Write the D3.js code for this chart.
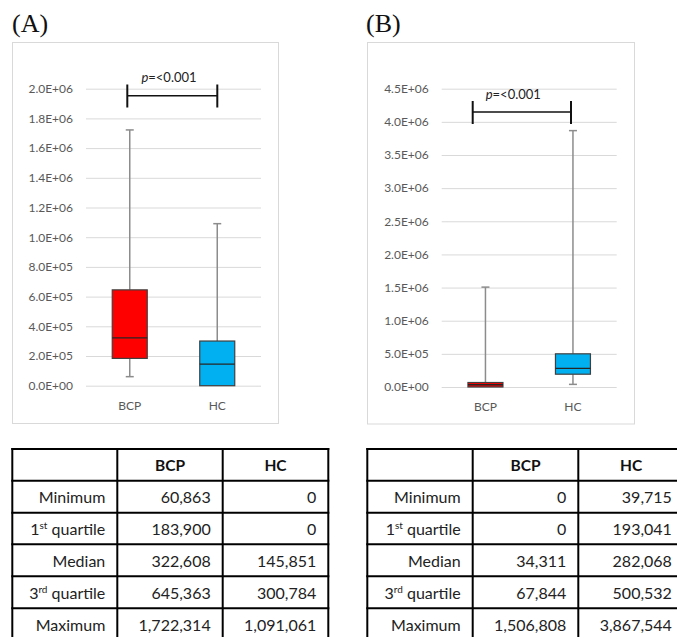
<!DOCTYPE html>
<html>
<head>
<meta charset="utf-8">
<script src="https://cdn.jsdelivr.net/npm/d3@7"></script>
<style>
  body { margin: 0; background: #fff; }
  svg { display: block; }
</style>
</head>
<body>
<svg id="fig" width="677" height="637"></svg>
<script>
// Group names and summary statistics (five-number summaries)
const groups = ["BCP", "HC"];
const statNames = ["Minimum", "1st quartile", "Median", "3rd quartile", "Maximum"];
const statsA_BCP = [60863, 183900, 322608, 645363, 1722314];
const statsA_HC  = [0, 0, 145851, 300784, 1091061];
const statsB_BCP = [0, 0, 34311, 67844, 1506808];
const statsB_HC  = [39715, 193041, 282068, 500532, 3867544];
const ticksA = [0, 2e5, 4e5, 6e5, 8e5, 1e6, 1.2e6, 1.4e6, 1.6e6, 1.8e6, 2e6];
const ticksB = [0, 5e5, 1e6, 1.5e6, 2e6, 2.5e6, 3e6, 3.5e6, 4e6, 4.5e6];
const pText = "<0.001";
const boxColors = ["#ff0000", "#00b0f0"];

// Layout of each panel: frame, plot area, significance bracket and table
const panels = [
  {
    tag: "(A)", tagX: 12, stats: [statsA_BCP, statsA_HC], ticks: ticksA, yMax: 2e6,
    frame: { x: 12.5, y: 42.5, w: 266, h: 381 },
    plot: { x0: 86, x1: 261, yBottom: 385.7, yTop: 88.7 },
    bracket: { xl: 127.3, xr: 217.3, top: 84.5, mid: 95.7, bottom: 107.5 },
    pLabelX: 169, pLabelY: 81.5,
    catY: 410,
    table: { cols: [12.3, 117.3, 222.7, 328.3] }
  },
  {
    tag: "(B)", tagX: 366, stats: [statsB_BCP, statsB_HC], ticks: ticksB, yMax: 4.5e6,
    frame: { x: 367.5, y: 42.5, w: 267, h: 381.5 },
    plot: { x0: 441.7, x1: 616.7, yBottom: 387, yTop: 88.7 },
    bracket: { xl: 472.7, xr: 571, top: 101, mid: 112, bottom: 124 },
    pLabelX: 513.3, pLabelY: 98.5,
    catY: 411,
    table: { cols: [367.3, 472.7, 578.3, 683.9] }
  }
];
const tableRows = [449, 480.7, 512.7, 544.3, 576.3, 608.3, 640.3];

const svg = d3.select("#fig");
svg.append("rect").attr("width", 677).attr("height", 637).attr("fill", "#fff");

const sansFont = "Lato, 'Open Sans', sans-serif";

// Tick label in Excel scientific style, e.g. 2.0E+06
function sci(v) {
  if (v === 0) return "0.0E+00";
  const e = Math.floor(Math.log10(v));
  const m = v / Math.pow(10, e);
  return m.toFixed(1) + "E+" + String(e).padStart(2, "0");
}

panels.forEach(p => {
  // Panel tag
  svg.append("text")
    .attr("x", p.tagX).attr("y", 32)
    .attr("font-family", "'Liberation Serif', 'Times New Roman', serif")
    .attr("font-size", 26).attr("fill", "#111")
    .text(p.tag);

  // Chart frame
  svg.append("rect")
    .attr("x", p.frame.x).attr("y", p.frame.y)
    .attr("width", p.frame.w).attr("height", p.frame.h)
    .attr("fill", "#fff").attr("stroke", "#d9d9d9").attr("stroke-width", 1);

  const x = d3.scaleBand().domain(groups).range([p.plot.x0, p.plot.x1]).padding(0);
  const y = d3.scaleLinear().domain([0, p.yMax]).range([p.plot.yBottom, p.plot.yTop]);

  // Value axis with gridlines
  const yAxis = d3.axisLeft(y)
    .tickValues(p.ticks)
    .tickFormat(sci)
    .tickSize(-(p.plot.x1 - p.plot.x0))
    .tickPadding(13);
  const gy = svg.append("g")
    .attr("transform", `translate(${p.plot.x0},0)`)
    .call(yAxis);
  gy.select(".domain").remove();
  gy.selectAll(".tick line").attr("stroke", "#d9d9d9").attr("stroke-width", 1);
  gy.selectAll(".tick text")
    .attr("font-family", sansFont).attr("font-size", 12).attr("fill", "#595959");

  // Category labels
  svg.append("g").selectAll("text").data(groups).join("text")
    .attr("x", d => x(d) + x.bandwidth() / 2)
    .attr("y", p.catY)
    .attr("text-anchor", "middle")
    .attr("font-family", sansFont).attr("font-size", 12).attr("fill", "#595959")
    .text(d => d);

  // Box plots
  const boxW = 35;
  const capW = 8;
  groups.forEach((g, i) => {
    const [mn, q1, med, q3, mx] = p.stats[i];
    const cx = x(g) + x.bandwidth() / 2;
    const grp = svg.append("g");
    // upper whisker
    grp.append("line")
      .attr("x1", cx).attr("x2", cx).attr("y1", y(mx)).attr("y2", y(q3))
      .attr("stroke", "#8c8c8c").attr("stroke-width", 1.5);
    grp.append("line")
      .attr("x1", cx - capW / 2).attr("x2", cx + capW / 2).attr("y1", y(mx)).attr("y2", y(mx))
      .attr("stroke", "#8c8c8c").attr("stroke-width", 1.5);
    // lower whisker
    if (q1 > mn) {
      grp.append("line")
        .attr("x1", cx).attr("x2", cx).attr("y1", y(q1)).attr("y2", y(mn))
        .attr("stroke", "#8c8c8c").attr("stroke-width", 1.5);
      grp.append("line")
        .attr("x1", cx - capW / 2).attr("x2", cx + capW / 2).attr("y1", y(mn)).attr("y2", y(mn))
        .attr("stroke", "#8c8c8c").attr("stroke-width", 1.5);
    }
    // interquartile box
    grp.append("rect")
      .attr("x", cx - boxW / 2).attr("y", y(q3))
      .attr("width", boxW).attr("height", y(q1) - y(q3))
      .attr("fill", boxColors[i]).attr("stroke", "#404040").attr("stroke-width", 1.2);
    // median
    grp.append("line")
      .attr("x1", cx - boxW / 2).attr("x2", cx + boxW / 2).attr("y1", y(med)).attr("y2", y(med))
      .attr("stroke", "#262626").attr("stroke-width", 1.3);
  });

  // Significance bracket
  const b = p.bracket;
  const br = svg.append("g").attr("stroke", "#111").attr("stroke-width", 2);
  br.append("line").attr("x1", b.xl).attr("x2", b.xl).attr("y1", b.top).attr("y2", b.bottom);
  br.append("line").attr("x1", b.xr).attr("x2", b.xr).attr("y1", b.top).attr("y2", b.bottom);
  br.append("line").attr("x1", b.xl).attr("x2", b.xr).attr("y1", b.mid).attr("y2", b.mid).attr("stroke-width", 1.6);

  const pt = svg.append("text")
    .attr("x", p.pLabelX).attr("y", p.pLabelY)
    .attr("text-anchor", "middle")
    .attr("font-family", sansFont).attr("font-size", 13).attr("fill", "#222");
  pt.append("tspan").attr("font-style", "italic").text("p");
  pt.append("tspan").text("=" + pText);

  // Summary table
  const cols = p.table.cols;
  const tg = svg.append("g");
  tg.selectAll("line.h").data(tableRows).join("line")
    .attr("x1", cols[0] - 1).attr("x2", cols[cols.length - 1] + 1)
    .attr("y1", d => d).attr("y2", d => d)
    .attr("stroke", "#000").attr("stroke-width", 2);
  tg.selectAll("line.v").data(cols).join("line")
    .attr("x1", d => d).attr("x2", d => d)
    .attr("y1", tableRows[0] - 1).attr("y2", tableRows[tableRows.length - 1])
    .attr("stroke", "#000").attr("stroke-width", 2);

  // header
  groups.forEach((g, i) => {
    tg.append("text")
      .attr("x", (cols[i + 1] + cols[i + 2]) / 2)
      .attr("y", (tableRows[0] + tableRows[1]) / 2 + 6.5)
      .attr("text-anchor", "middle")
      .attr("font-family", sansFont).attr("font-size", 15.5).attr("font-weight", "bold")
      .attr("fill", "#111")
      .text(g);
  });

  const fmt = d3.format(",");
  statNames.forEach((name, r) => {
    const ty = (tableRows[r + 1] + tableRows[r + 2]) / 2 + 6.5;
    const lab = tg.append("text")
      .attr("x", cols[1] - 12).attr("y", ty)
      .attr("text-anchor", "end")
      .attr("font-family", sansFont).attr("font-size", 16).attr("fill", "#222");
    const m = name.match(/^(\d)(st|nd|rd|th)(.*)$/);
    if (m) {
      lab.append("tspan").text(m[1]);
      lab.append("tspan").attr("font-size", 10).attr("dy", -6).text(m[2]);
      lab.append("tspan").attr("dy", 6).text(m[3]);
    } else {
      lab.text(name);
    }
    groups.forEach((g, i) => {
      tg.append("text")
        .attr("x", cols[i + 2] - 12).attr("y", ty)
        .attr("text-anchor", "end")
        .attr("font-family", sansFont).attr("font-size", 16).attr("fill", "#222")
        .text(fmt(p.stats[i][r]));
    });
  });
});
</script>
</body>
</html>
